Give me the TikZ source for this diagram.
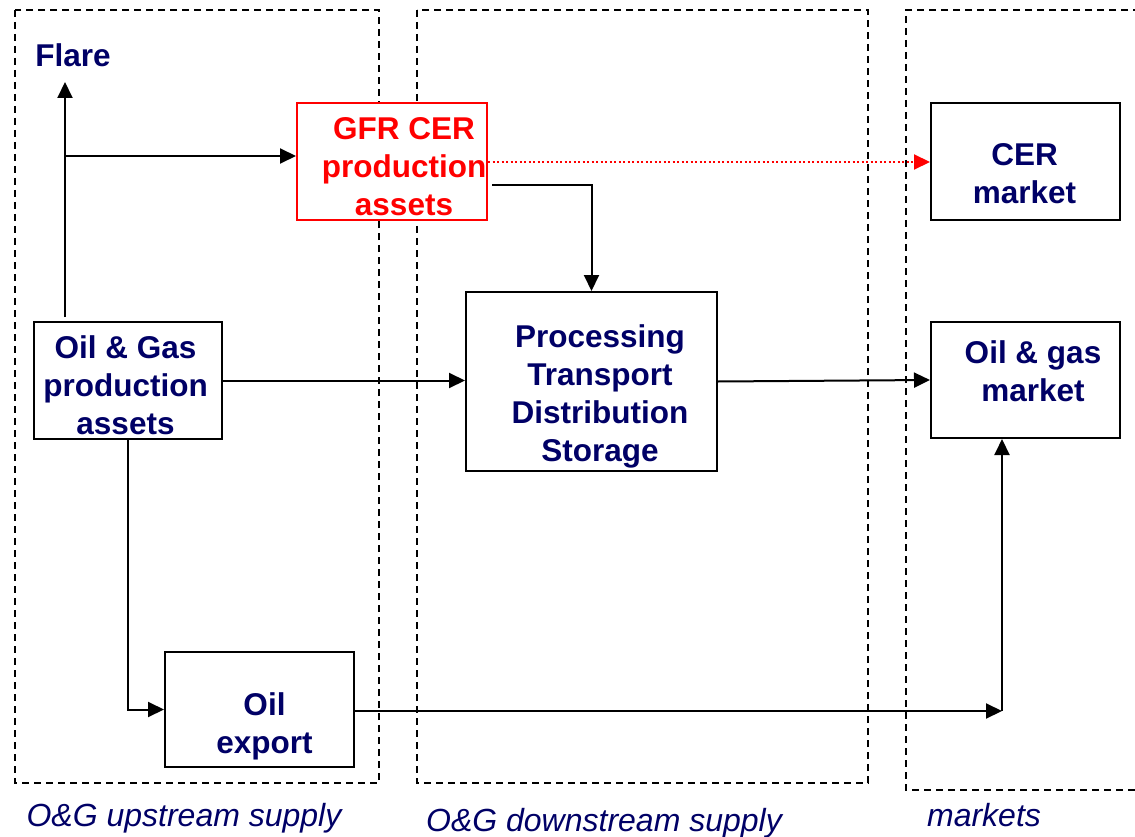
\documentclass[tikz,border=0pt]{standalone}
\usepackage{fontspec}
\setmainfont{Liberation Sans}
\usetikzlibrary{arrows.meta}
\definecolor{navy}{RGB}{0,0,102}
\definecolor{gfrred}{RGB}{255,0,0}
\begin{document}
\begin{tikzpicture}[x=1pt,y=-1pt,
  zone/.style={draw=black,line width=2pt,dash pattern=on 7pt off 5pt},
  boxnode/.style={draw=black,line width=2pt,fill=white,inner sep=0pt},
  redbox/.style={draw=gfrred,line width=2pt,fill=white,inner sep=0pt},
  boxtext/.style={text=navy,align=center,inner sep=0pt,font=\fontsize{31.5}{38}\selectfont\bfseries},
  redtext/.style={text=gfrred,align=center,inner sep=0pt,font=\fontsize{31.5}{38}\selectfont\bfseries},
  zonetext/.style={text=navy,inner sep=0pt,font=\fontsize{32}{38}\selectfont\itshape},
  conn/.style={draw=black,line width=2pt},
  arr/.style={conn,-{Triangle[length=16pt,width=15pt]}},
  redarr/.style={draw=gfrred,line width=2pt,dash pattern=on 2pt off 2.5pt,-{Triangle[length=16pt,width=15pt]}}
]
\useasboundingbox (0,0) rectangle (1135,837);

% zones
\draw[zone] (15,10) rectangle (379,783);
\draw[zone] (417,10) rectangle (868,783);
\draw[zone] (1140,10) -- (906,10) -- (906,790) -- (1140,790);

\node[zonetext] (lup) at (184,818) {O\&G upstream supply};
\node[zonetext] (ldown) at (604,823) {O\&G downstream supply};
\node[zonetext] (lmkt) at (984,815) {markets};

% boxes
\node[redbox,minimum width=190pt,minimum height=117pt] (gfr) at (392,161.5) {};
\node[redtext] (gfrt) at (404,167) {GFR CER\\production\\assets};

\node[boxnode,minimum width=189pt,minimum height=117pt] (cer) at (1025.5,161.5) {};
\node[boxtext] (cert) at (1024.5,174) {CER\\market};

\node[boxnode,minimum width=251pt,minimum height=179pt] (proc) at (591.5,381.5) {};
\node[boxtext] (proct) at (600,396) {Processing\\Transport\\Distribution\\Storage};

\node[boxnode,minimum width=188pt,minimum height=117pt] (ogp) at (128,380.5) {};
\node[boxtext] (ogpt) at (125.5,385.5) {Oil \& Gas\\production\\assets};

\node[boxnode,minimum width=189pt,minimum height=116pt] (ogm) at (1025.5,380) {};
\node[boxtext] (ogmt) at (1033,371.5) {Oil \& gas\\market};

\node[boxnode,minimum width=189pt,minimum height=115pt] (exp) at (259.5,709.5) {};
\node[boxtext] (expt) at (264.5,726) {Oil\\export};

\node[boxtext] (flare) at (73,55) {Flare};

% connectors
\coordinate (fs) at (65,317);
\coordinate (fe) at (65,82);
\coordinate (fb) at (65,156);
\coordinate (gs) at (492,185);
\coordinate (jn) at (1002,711);

\draw[arr] (fs) -- (fe);
\draw[arr] (fb) -- (fb -| gfr.west);
\draw[redarr] (gfr.east |- 0,162) -- (cer.west |- 0,162);
\draw[arr] (gs) -| (proc.north);
\draw[arr] (ogp.east) -- (ogp.east -| proc.west);
\draw[arr] (proc.east) -- (ogm.west);
\draw[arr] (ogp.south) |- (exp.west);
\draw[arr] (exp.east |- jn) -- (jn);
\draw[arr] (jn) -- (jn |- ogm.south);
\end{tikzpicture}
\end{document}
